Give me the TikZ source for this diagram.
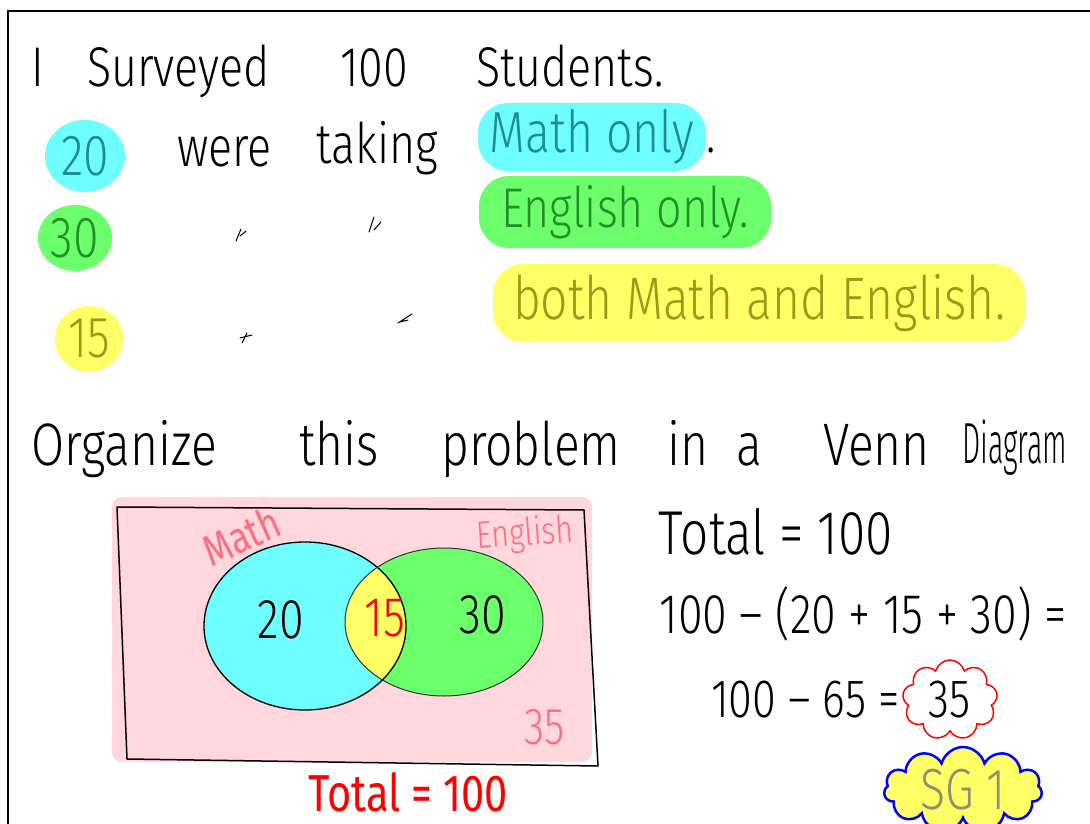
\documentclass[tikz,border=0pt]{standalone}
\usepackage{fontspec}
\usepackage{graphicx}
\usepackage{tikz}
\usetikzlibrary{shapes.geometric,shapes.symbols,positioning}
\newfontfamily\hand{Fira Sans Light}[FakeStretch=0.8]
\newfontfamily\marker{Fira Sans}[FakeStretch=0.8]
\newcommand{\hw}[1]{\hand\fontsize{#1}{#1}\selectfont}
\newcommand{\mk}[1]{\marker\fontsize{#1}{#1}\selectfont}
\definecolor{cyanhl}{HTML}{6EFEFE}
\definecolor{greenhl}{HTML}{6CFF6C}
\definecolor{yellowhl}{HTML}{FFFF66}
\definecolor{pinkbg}{HTML}{FFD7DD}
\definecolor{pinktxt}{HTML}{FF6E7E}
\definecolor{tealtxt}{HTML}{1E8C90}
\definecolor{greentxt}{HTML}{268E26}
\definecolor{olivetxt}{HTML}{9A9A18}
\definecolor{sggray}{HTML}{8F8F72}
\tikzset{
  lineword/.style={anchor=base west, inner sep=0pt, font=\hw{56}},
  numblob/.style={ellipse, inner sep=0pt, font=\hw{58}},
  hilite/.style={rounded corners=30pt, inner sep=0pt},
  vnum/.style={inner sep=0pt, font=\hw{56}},
  ditto/.style={line width=1pt, line cap=round}
}

\begin{document}
\begin{tikzpicture}[x=1pt, y=-1pt]
  \useasboundingbox (0,0) rectangle (1090,824);
  \fill[white] (0,0) rectangle (1090,824);
  \draw[line width=2.5pt] (8,830) -- (8,11) -- (1095,11);

  % survey text
  \foreach \w/\x [count=\i] in {I/31, Surveyed/87, 100/340, Students./476}
    \node[lineword] (survey-\i) at (\x,87) {\w};

  \node[numblob, fill=cyanhl, text=tealtxt, minimum width=80pt, minimum height=72pt] (n20) at (85,156) {20};
  \node[lineword] (were) at (177,167) {were};
  \node[lineword] (taking) at (316,164) {taking};
  \node[hilite, fill=cyanhl, text=tealtxt, font=\hw{58}, minimum width=228pt, minimum height=68pt] (mathonly) at (592,137) {Math only};
  \node[lineword] (dot1) at (mathonly.east) [yshift=-16pt] {.};

  \node[numblob, fill=greenhl, text=greentxt, minimum width=74pt, minimum height=66pt] (n30) at (75,238) {30};
  \node[hilite, fill=greenhl, text=greentxt, font=\hw{56}, minimum width=292pt, minimum height=72pt] (engonly) at (625,212) {English only.};

  \node[numblob, fill=yellowhl, text=olivetxt, minimum width=68pt, minimum height=66pt] (n15) at (89,339) {15};
  \node[hilite, fill=yellowhl, text=olivetxt, font=\hw{60}, minimum width=532pt, minimum height=78pt] (both) at (759,303) {both Math and English.};

  % ditto marks
  \draw[ditto] (236,241) -- (241,229) (240,236) -- (246,231);
  \draw[ditto] (369,232) -- (374,217) (374,230) -- (381,222);
  \draw[ditto] (242,343) -- (247,333) (240,338) -- (252,335);
  \draw[ditto] (398,323) -- (412,314) (400,322) -- (408,320);

  % heading
  \foreach \w/\x [count=\i] in {Organize/31, this/299, problem/441, in/667, a/736, Venn/823}
    \node[lineword, font=\hw{60}] (org-\i) at (\x,465) {\w};
  \node[lineword, font=\hw{58}] (org-7) at (962,463) {\scalebox{0.62}[1]{Diagram}};

  % venn diagram
  \fill[pinkbg, rounded corners=10pt] (112,497) rectangle (592,762);
  \draw[line width=1.5pt, line join=round] (117,507) -- (584,510) -- (598,766) -- (127,759) -- cycle;
  \fill[cyanhl] (305,626) ellipse [x radius=101, y radius=84];
  \fill[greenhl] (444,622) ellipse [x radius=99, y radius=74];
  \begin{scope}
    \clip (305,626) ellipse [x radius=101, y radius=84];
    \fill[yellowhl] (444,622) ellipse [x radius=99, y radius=74];
  \end{scope}
  \draw[line width=1.3pt] (305,626) ellipse [x radius=101, y radius=84];
  \draw[line width=1pt, black!80] (444,622) ellipse [x radius=99, y radius=74];

  \node[inner sep=0pt, text=pinktxt, font=\mk{44}, rotate=24] (mathlbl) at (241,536) {Math};
  \node[inner sep=0pt, text=pinktxt, font=\hw{38}, rotate=4] (englbl) at (525,535) {English};
  \node[vnum] (v20) at (281,620) {20};
  \node[vnum, text=red] (v15) at (385,618) {15};
  \node[vnum] (v30) at (483,615) {30};
  \node[vnum, text=pinktxt, font=\hw{52}] (v35) at (545,727) {35};
  \node[inner sep=0pt, text=red, font=\mk{52}] (redtotal) at (408,792) {Total = 100};

  % working
  \node[inner sep=0pt, font=\hw{62}] (total) at (776,532) {Total = 100};
  \node[inner sep=0pt, font=\hw{56}] (sum) at (863,614) {100 – (20 + 15 + 30) =};
  \node[cloud, cloud puffs=9, cloud ignores aspect, draw=red, line width=1.5pt, minimum width=95pt, minimum height=80pt, inner sep=0pt, font=\hw{54}] (ans) at (950,700) {35};
  \node[inner sep=0pt, font=\hw{54}, left=3pt of ans] (diff) {100 – 65 =};
  \node[cloud, cloud puffs=11, cloud ignores aspect, draw=blue, fill=yellowhl, line width=2.5pt, minimum width=158pt, minimum height=86pt, inner sep=0pt, text=sggray, font=\hw{58}] (sg) at (963,790) {SG 1};
\end{tikzpicture}
\end{document}
